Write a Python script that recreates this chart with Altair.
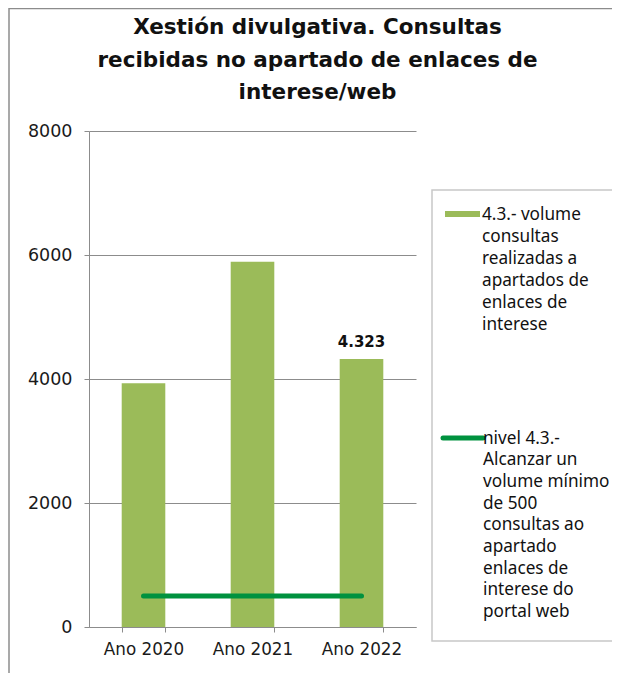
import altair as alt
import pandas as pd

# ---- data ----
years = ["Ano 2020", "Ano 2021", "Ano 2022"]
consultas = [3930, 5890, 4323]
nivel = [500, 500, 500]
data_labels = ["", "", "4.323"]
y_ticks = [0, 2000, 4000, 6000, 8000]
title_lines = [
    "Xestión divulgativa. Consultas",
    "recibidas no apartado de enlaces de",
    "interese/web",
]
legend_bar_lines = ["4.3.- volume", "consultas", "realizadas a",
                    "apartados de", "enlaces de", "interese"]
legend_line_lines = ["nivel 4.3.-", "Alcanzar un", "volume mínimo", "de 500",
                     "consultas ao", "apartado", "enlaces de", "interese do",
                     "portal web"]

BAR_COLOR = "#9BBB59"
LINE_COLOR = "#00923F"
GRID = "#8C8C8C"

df = pd.DataFrame({"year": years, "consultas": consultas,
                   "nivel": nivel, "label": data_labels})
one = pd.DataFrame({"k": [0]})

W, H = 327, 496

xscale = alt.Scale(domain=years, paddingInner=0.6, paddingOuter=0.3)
x_axis = alt.Axis(title=None, labelAngle=0, tickBand="extent", tickSize=5,
                  labelFont="DejaVu Sans", labelFontSize=16.8, labelColor="#1a1a1a",
                  labelPadding=9, domainColor=GRID, tickColor=GRID, grid=False)
y_axis = alt.Axis(title=None, values=y_ticks, format="d", tickSize=5, labelPadding=12,
                  labelFont="DejaVu Sans", labelFontSize=17.5, labelColor="#1a1a1a",
                  domainColor=GRID, tickColor=GRID, gridColor=GRID, grid=True)
yscale = alt.Scale(domain=[0, 8000], nice=False)

X = alt.X("year:N", scale=xscale, axis=x_axis, sort=years)

bars = alt.Chart(df).mark_bar(color=BAR_COLOR).encode(
    x=X,
    y=alt.Y("consultas:Q", scale=yscale, axis=y_axis),
)

line = alt.Chart(df).mark_line(color=LINE_COLOR, strokeWidth=5,
                               strokeCap="round").encode(
    x=alt.X("year:N", scale=xscale, sort=years),
    y=alt.Y("nivel:Q", scale=yscale),
)

labels = alt.Chart(df).mark_text(font="DejaVu Sans", fontWeight="bold",
                                 fontSize=15, dy=-17, color="#111").encode(
    x=alt.X("year:N", scale=xscale, sort=years),
    y=alt.Y("consultas:Q", scale=yscale),
    text="label:N",
)

# ---- title as a centred multi-line text ----
title = alt.Chart(one).mark_text(
    text=title_lines, align="center", baseline="alphabetic",
    font="DejaVu Sans", fontSize=21.5, fontWeight="bold", lineHeight=32.5,
    color="#111").encode(x=alt.value(228.5), y=alt.value(-97))

# ---- legend drawn by hand (box, swatches, wrapped labels) ----
leg_box = alt.Chart(one).mark_rect(fillOpacity=0, stroke="#C8C8C8",
                                   strokeWidth=1.5).encode(
    x=alt.value(343), x2=alt.value(560), y=alt.value(59), y2=alt.value(510))

sw_bar = alt.Chart(one).mark_rect(color=BAR_COLOR).encode(
    x=alt.value(356), x2=alt.value(391), y=alt.value(80), y2=alt.value(86))

sw_line = alt.Chart(one).mark_rule(color=LINE_COLOR, strokeWidth=5,
                                   strokeCap="round").encode(
    x=alt.value(354), x2=alt.value(394), y=alt.value(307))

txt_bar = alt.Chart(one).mark_text(
    text=legend_bar_lines, align="left", baseline="alphabetic",
    font="Noto Sans", fontSize=17.2, lineHeight=22, color="#111").encode(
    x=alt.value(393), y=alt.value(89))

txt_line = alt.Chart(one).mark_text(
    text=legend_line_lines, align="left", baseline="alphabetic",
    font="Noto Sans", fontSize=17.2, lineHeight=21.7, color="#111").encode(
    x=alt.value(394), y=alt.value(312.5))

# ---- outer frame ----
frame_left = alt.Chart(one).mark_rule(color="#8C8C8C", strokeWidth=1.5).encode(
    x=alt.value(-80), y=alt.value(-123), y2=alt.value(542))
frame_top = alt.Chart(one).mark_rule(color="#8C8C8C", strokeWidth=1.5).encode(
    x=alt.value(-80), x2=alt.value(600), y=alt.value(-122.5))

chart = alt.layer(
    bars, line, labels, title, leg_box, sw_bar, sw_line, txt_bar, txt_line,
    frame_left, frame_top,
).properties(
    width=W, height=H,
    autosize=alt.AutoSizeParams(type="none"),
    padding={"left": 81, "top": 123, "right": 196, "bottom": 46},
).configure_view(stroke=None)

chart.save("out.html", embed_options={"renderer": "svg", "actions": False})
